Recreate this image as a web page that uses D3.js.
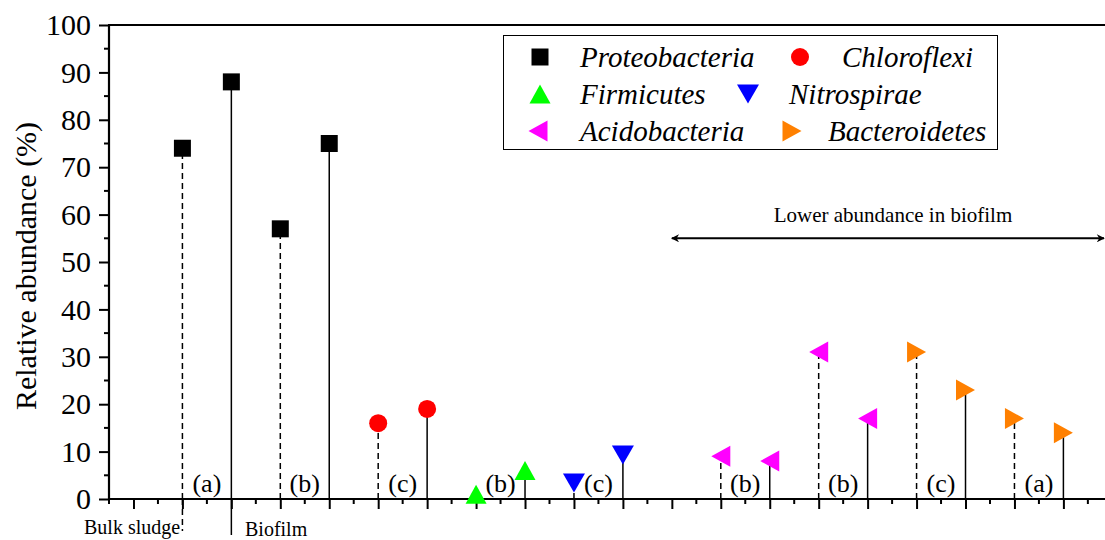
<!DOCTYPE html>
<html>
<head>
<meta charset="utf-8">
<script src="https://cdn.jsdelivr.net/npm/d3@7"></script>
<style>
  html, body { margin: 0; padding: 0; background: #fff; }
  svg, svg text { font-family: 'Liberation Serif', 'Times New Roman', serif !important; }
</style>
</head>
<body>
<svg id="chart" width="1105" height="540"></svg>
<script>
// ---------------- data ----------------
const phyla = ["Proteobacteria", "Chloroflexi", "Firmicutes", "Nitrospirae", "Acidobacteria", "Bacteroidetes"];
const colors = ["#000000", "#ff0000", "#00ff00", "#0000ff", "#ff00ff", "#ff8000"];

const proteobacteriaX = [0, 1, 2, 3];
const proteobacteria = [74, 88, 57, 75];
const chloroflexiX = [4, 5];
const chloroflexi = [16, 19];
const firmicutesX = [6, 7];
const firmicutes = [1, 6];
const nitrospiraeX = [8, 9];
const nitrospirae = [3.4, 9.3];
const acidobacteriaX = [11, 12, 13, 14];
const acidobacteria = [9, 8, 31, 17];
const bacteroidetesX = [15, 16, 17, 18];
const bacteroidetes = [31, 23, 17, 14];

const sampleTypes = ["Bulk sludge", "Biofilm"];

const groupLabels = ["(a)", "(b)", "(c)", "(b)", "(c)", "(b)", "(b)", "(c)", "(a)"];
const groupX = [0.5, 2.5, 4.5, 6.5, 8.5, 11.5, 13.5, 15.5, 17.5];

const yTicks = [0, 10, 20, 30, 40, 50, 60, 70, 80, 90, 100];
const yLabel = "Relative abundance (%)";
const arrowText = "Lower abundance in biofilm";
const arrowFrom = 10;
const arrowLevel = 55;

// ---------------- layout ----------------
const svg = d3.select("#chart");
const pLeft = 109, pRight = 1105, pTop = 25, pBottom = 499;

const x = d3.scaleLinear().domain([-1.5, 18.85]).range([pLeft, pRight]);
const y = d3.scaleLinear().domain([0, 100]).range([pBottom, pTop]);

const series = [
  { name: phyla[0], xs: proteobacteriaX, vals: proteobacteria, shape: "square" },
  { name: phyla[1], xs: chloroflexiX, vals: chloroflexi, shape: "circle" },
  { name: phyla[2], xs: firmicutesX, vals: firmicutes, shape: "up" },
  { name: phyla[3], xs: nitrospiraeX, vals: nitrospirae, shape: "down" },
  { name: phyla[4], xs: acidobacteriaX, vals: acidobacteria, shape: "left" },
  { name: phyla[5], xs: bacteroidetesX, vals: bacteroidetes, shape: "right" }
];
series.forEach((s, i) => s.color = colors[i]);

function shapePath(shape) {
  switch (shape) {
    case "square": { const a = 8.5; return `M${-a},${-a}H${a}V${a}H${-a}Z`; }
    case "circle": { const r = 9; return `M${r},0A${r},${r} 0 1,1 ${-r},0A${r},${r} 0 1,1 ${r},0Z`; }
    case "up": { const w = 10.5, h = 9.5; return `M0,${-h}L${w},${h}L${-w},${h}Z`; }
    case "down": { const w = 11, h = 9.5; return `M0,${h}L${w},${-h}L${-w},${-h}Z`; }
    case "left": { const w = 9.5, h = 10.5; return `M${-w},0L${w},${-h}L${w},${h}Z`; }
    case "right": { const w = 9.5, h = 10.5; return `M${w},0L${-w},${-h}L${-w},${h}Z`; }
  }
}

// ---------------- stems ----------------
const points = [];
series.forEach(s => s.xs.forEach((xi, j) => points.push({ x: xi, v: s.vals[j], type: sampleTypes[j % 2], s })));

svg.append("g").selectAll("line").data(points).join("line")
  .attr("x1", d => x(d.x)).attr("x2", d => x(d.x))
  .attr("y1", y(0)).attr("y2", d => y(d.v))
  .attr("stroke", "#000").attr("stroke-width", 1.5)
  .attr("stroke-dasharray", d => d.type === sampleTypes[0] ? "6,4" : null);

// sample-type key lines below the axis
const keyLines = [
  { x: proteobacteriaX[0], type: sampleTypes[0], end: 531 },
  { x: proteobacteriaX[1], type: sampleTypes[1], end: 535 }
];
svg.append("g").selectAll("line").data(keyLines).join("line")
  .attr("x1", d => x(d.x)).attr("x2", d => x(d.x))
  .attr("y1", y(0)).attr("y2", d => d.end)
  .attr("stroke", "#000").attr("stroke-width", 1.5)
  .attr("stroke-dasharray", d => d.type === sampleTypes[0] ? "6,4" : null);

svg.append("text").attr("x", 84).attr("y", 534).attr("font-size", 20).text(sampleTypes[0]);
svg.append("text").attr("x", 245).attr("y", 536).attr("font-size", 20).text(sampleTypes[1]);

// ---------------- group labels ----------------
svg.append("g").selectAll("text").data(groupLabels).join("text")
  .attr("x", (d, i) => x(groupX[i])).attr("y", 492)
  .attr("text-anchor", "middle").attr("font-size", 26)
  .text(d => d);

// ---------------- axes ----------------
const yAxis = d3.axisLeft(y).tickValues(yTicks).tickSize(10).tickPadding(8).tickFormat(d3.format("d"));
const gy = svg.append("g").attr("transform", `translate(${pLeft},0)`).call(yAxis);
gy.attr("font-family", null);
gy.select(".domain").remove();
gy.selectAll(".tick line").attr("stroke-width", 2);
gy.selectAll(".tick text").attr("font-size", 30).attr("fill", "#000");
// minor y ticks
svg.append("g").selectAll("line").data(d3.range(5, 100, 10)).join("line")
  .attr("x1", pLeft).attr("x2", pLeft - 5).attr("y1", d => y(d)).attr("y2", d => y(d))
  .attr("stroke", "#000").attr("stroke-width", 2);

// x ticks
const xMajor = d3.range(-1, 19, 1);
const xMinor = d3.range(-1.5, 19, 1);
const gx = svg.append("g").attr("transform", `translate(0,${pBottom})`)
  .call(d3.axisBottom(x).tickValues(xMajor).tickSize(10).tickFormat(""));
gx.select(".domain").remove();
gx.selectAll(".tick line").attr("stroke-width", 2);
svg.append("g").selectAll("line").data(xMinor).join("line")
  .attr("x1", d => x(d)).attr("x2", d => x(d)).attr("y1", pBottom).attr("y2", pBottom + 5)
  .attr("stroke", "#000").attr("stroke-width", 2);

// frame
svg.append("line").attr("x1", pLeft).attr("x2", pRight).attr("y1", pBottom).attr("y2", pBottom)
  .attr("stroke", "#000").attr("stroke-width", 2.2);
svg.append("line").attr("x1", pLeft).attr("x2", pLeft).attr("y1", pTop).attr("y2", pBottom + 1)
  .attr("stroke", "#000").attr("stroke-width", 2.2);
svg.append("line").attr("x1", pLeft - 1).attr("x2", pRight).attr("y1", pTop).attr("y2", pTop)
  .attr("stroke", "#000").attr("stroke-width", 2.2);

// y label
svg.append("text")
  .attr("transform", `translate(36,${(pTop + pBottom) / 2 + 4}) rotate(-90)`)
  .attr("text-anchor", "middle").attr("font-size", 30)
  .text(yLabel);

// ---------------- markers ----------------
svg.append("g").selectAll("path").data(points).join("path")
  .attr("transform", d => `translate(${x(d.x)},${y(d.v)})`)
  .attr("d", d => shapePath(d.s.shape))
  .attr("fill", d => d.s.color);

// ---------------- arrow annotation ----------------
const defs = svg.append("defs");
defs.append("marker").attr("id", "ah").attr("viewBox", "0 0 10 10")
  .attr("refX", 9).attr("refY", 5).attr("markerWidth", 5).attr("markerHeight", 4)
  .attr("orient", "auto-start-reverse").attr("markerUnits", "strokeWidth")
  .append("path").attr("d", "M0,0L10,5L0,10L3,5Z").attr("fill", "#000");
svg.append("line")
  .attr("x1", x(arrowFrom)).attr("x2", x(x.domain()[1]) - 1)
  .attr("y1", y(arrowLevel)).attr("y2", y(arrowLevel))
  .attr("stroke", "#000").attr("stroke-width", 2)
  .attr("marker-start", "url(#ah)").attr("marker-end", "url(#ah)");
svg.append("text")
  .attr("x", 893).attr("y", y(arrowLevel) - 16)
  .attr("text-anchor", "middle").attr("font-size", 21)
  .text(arrowText);

// ---------------- legend ----------------
const lg = svg.append("g");
lg.append("rect").attr("x", 503.5).attr("y", 35.5).attr("width", 494).attr("height", 114)
  .attr("fill", "#fff").attr("stroke", "#000").attr("stroke-width", 1);
const legendPos = [
  { sx: 540, tx: 580, ty: 57 },
  { sx: 800, tx: 842, ty: 57 },
  { sx: 540, tx: 580, ty: 94 },
  { sx: 748, tx: 789, ty: 94 },
  { sx: 538, tx: 580, ty: 131 },
  { sx: 792, tx: 828, ty: 131 }
];
series.forEach((s, i) => {
  const p = legendPos[i];
  lg.append("path").attr("transform", `translate(${p.sx},${p.ty})`)
    .attr("d", shapePath(s.shape)).attr("fill", s.color);
  lg.append("text").attr("x", p.tx).attr("y", p.ty + 10)
    .attr("font-size", 29).attr("font-style", "italic")
    .text(s.name);
});
</script>
</body>
</html>
